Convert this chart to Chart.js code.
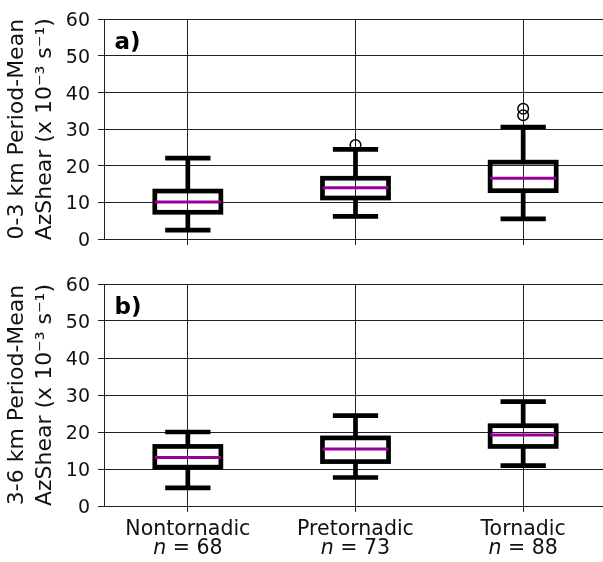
<!DOCTYPE html>
<html>
<head>
<meta charset="utf-8">
<script src="https://cdn.jsdelivr.net/npm/chart.js@4/dist/chart.umd.min.js"></script>
<style>
  html, body { margin: 0; padding: 0; background: #fff; overflow: hidden; width: 603px; height: 562px; }
  canvas { position: absolute; left: 0; display: block; }
  #ca { top: 0; }
  #cb { top: 262px; }
</style>
</head>
<body>
<canvas id="ca" width="607" height="262"></canvas>
<canvas id="cb" width="607" height="300"></canvas>
<script>
// Storm categories and sample sizes
const categories = ['Nontornadic', 'Pretornadic', 'Tornadic'];
const sampleSizes = [68, 73, 88];
const yTicks = [0, 10, 20, 30, 40, 50, 60];

// 0-3 km period-mean AzShear (x 10^-3 s^-1)
const whiskerLow03  = [2.4, 6.2, 5.5];
const q1_03         = [7.3, 11.2, 13.2];
const median03      = [10.1, 14.0, 16.6];
const q3_03         = [13.1, 16.6, 21.0];
const whiskerHigh03 = [22.1, 24.5, 30.6];
const fliers03      = [[], [25.7], [33.8, 35.6]];

// 3-6 km period-mean AzShear (x 10^-3 s^-1)
const whiskerLow36  = [4.9, 7.7, 10.9];
const q1_36         = [10.5, 12.0, 16.1];
const median36      = [13.1, 15.4, 19.2];
const q3_36         = [16.1, 18.4, 21.7];
const whiskerHigh36 = [20.0, 24.4, 28.2];
const fliers36      = [[], [], []];

Chart.defaults.font.family = '"DejaVu Sans", sans-serif';
Chart.defaults.color = '#111';

// Draws box-and-whisker glyphs on top of the category/linear scales
function boxPlotPlugin(stats, tag, showLabels) {
  return {
    id: 'boxPlot',
    afterDatasetsDraw(chart) {
      const { ctx, chartArea, scales: { x, y } } = chart;
      const step = x.getPixelForValue(1) - x.getPixelForValue(0);
      const bw = step * 0.197;
      const cw = step * 0.135;
      ctx.save();
      for (let i = 0; i < categories.length; i++) {
        const cx = x.getPixelForValue(i);
        const yLo = y.getPixelForValue(stats.lo[i]);
        const yQ1 = y.getPixelForValue(stats.q1[i]);
        const yMed = y.getPixelForValue(stats.med[i]);
        const yQ3 = y.getPixelForValue(stats.q3[i]);
        const yHi = y.getPixelForValue(stats.hi[i]);

        // outliers
        ctx.strokeStyle = '#000';
        ctx.lineWidth = 1.5;
        for (const v of stats.fliers[i]) {
          ctx.beginPath();
          ctx.arc(cx, y.getPixelForValue(v), 5.3, 0, Math.PI * 2);
          ctx.stroke();
        }

        ctx.strokeStyle = '#000';
        ctx.lineWidth = 4.7;
        ctx.lineCap = 'butt';
        ctx.lineJoin = 'miter';
        // whiskers
        ctx.beginPath();
        ctx.moveTo(cx, yQ3); ctx.lineTo(cx, yHi);
        ctx.moveTo(cx, yQ1); ctx.lineTo(cx, yLo);
        ctx.stroke();
        // caps
        ctx.beginPath();
        ctx.moveTo(cx - cw, yHi); ctx.lineTo(cx + cw, yHi);
        ctx.moveTo(cx - cw, yLo); ctx.lineTo(cx + cw, yLo);
        ctx.stroke();
        // box
        ctx.strokeRect(cx - bw, yQ3, bw * 2, yQ1 - yQ3);
        // median
        ctx.strokeStyle = '#990099';
        ctx.lineWidth = 3;
        ctx.beginPath();
        ctx.moveTo(cx - bw, yMed); ctx.lineTo(cx + bw, yMed);
        ctx.stroke();

        if (showLabels) {
          const base = chartArea.bottom + 29;
          const normal = '20.5px "DejaVu Sans"';
          const italic = 'italic 20.5px "DejaVu Sans"';
          ctx.fillStyle = '#111';
          ctx.textBaseline = 'alphabetic';
          ctx.textAlign = 'center';
          ctx.font = normal;
          ctx.fillText(categories[i], cx, base);
          const rest = ' = ' + sampleSizes[i];
          ctx.font = italic;
          const w1 = ctx.measureText('n').width;
          ctx.font = normal;
          const w2 = ctx.measureText(rest).width;
          const x0 = cx - (w1 + w2) / 2;
          ctx.textAlign = 'left';
          ctx.font = italic;
          ctx.fillText('n', x0, base + 18.5);
          ctx.font = normal;
          ctx.fillText(rest, x0 + w1, base + 18.5);
        }
      }
      // panel letter
      ctx.fillStyle = '#000';
      ctx.font = 'bold 23px "DejaVu Sans"';
      ctx.textAlign = 'left';
      ctx.textBaseline = 'alphabetic';
      ctx.fillText(tag, chartArea.left + 10.5, chartArea.top + 29.7);
      ctx.restore();
    }
  };
}

function makePanel(canvasId, titleLines, stats, tag, showLabels, padTop, xHeight) {
  return new Chart(document.getElementById(canvasId), {
    type: 'bar',
    data: { labels: categories, datasets: [] },
    options: {
      responsive: false,
      animation: false,
      events: [],
      layout: { padding: { top: padTop, right: 0, bottom: 0, left: 0 } },
      plugins: { legend: { display: false }, tooltip: { enabled: false } },
      scales: {
        x: {
          type: 'category',
          offset: true,
          grid: { offset: false, color: '#222', lineWidth: 1, tickLength: 6, drawTicks: true },
          border: { display: true, color: '#222', width: 1 },
          ticks: { display: false },
          afterFit(scale) { scale.height = xHeight; }
        },
        y: {
          min: 0,
          max: 60,
          afterBuildTicks(scale) { scale.ticks = yTicks.map(v => ({ value: v })); },
          grid: { color: '#222', lineWidth: 1, tickLength: 6, drawTicks: true },
          border: { display: true, color: '#222', width: 1 },
          ticks: { font: { size: 19 }, color: '#111', padding: 8, labelOffset: 2 },
          title: {
            display: true,
            text: titleLines,
            font: { size: 22, lineHeight: 1.273 },
            color: '#111',
            padding: { top: 3, bottom: 0 }
          },
          afterFit(scale) { scale.width = 104; }
        }
      }
    },
    plugins: [boxPlotPlugin(stats, tag, showLabels)]
  });
}

makePanel('ca', ['0-3 km Period-Mean', 'AzShear (x 10\u207B\u00B3 s\u207B\u00B9)'],
  { lo: whiskerLow03, q1: q1_03, med: median03, q3: q3_03, hi: whiskerHigh03, fliers: fliers03 },
  'a)', false, 16, 23);

makePanel('cb', ['3-6 km Period-Mean', 'AzShear (x 10\u207B\u00B3 s\u207B\u00B9)'],
  { lo: whiskerLow36, q1: q1_36, med: median36, q3: q3_36, hi: whiskerHigh36, fliers: fliers36 },
  'b)', true, 22, 56);
</script>
</body>
</html>
